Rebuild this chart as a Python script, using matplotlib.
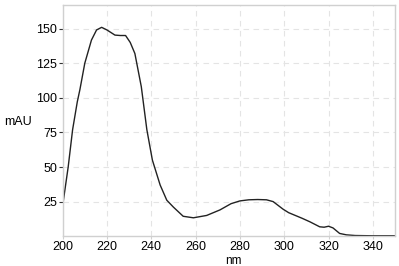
import numpy as np
import matplotlib.pyplot as plt

plt.rcParams['font.family'] = ['Liberation Sans', 'DejaVu Sans']

# Espectro de absorbancia
nm = [200, 202.5, 204.5, 206.6, 207.8, 210, 213, 215.3, 217.6, 220, 223.6, 226,
      228.4, 230.5, 232.6, 235.5, 238, 240.5, 244, 247, 250, 254.4, 259, 265,
      271, 276, 280, 284, 288, 292, 295, 299.5, 302, 305, 308, 311.6, 316,
      318, 320, 322, 325, 328, 332, 340, 350]
mau = [22, 50, 77, 97, 106, 125, 141.7, 149, 150.9, 149, 145.3, 145,
       145, 140, 132, 108, 77, 55, 37, 26, 21, 14.4, 13.3, 15,
       19, 23.5, 25.5, 26.3, 26.5, 26.3, 25, 19.5, 17, 15, 13, 10.4, 6.8,
       6.5, 7.2, 6, 2, 1, 0.5, 0.3, 0.3]

xticks = [200, 220, 240, 260, 280, 300, 320, 340]
yticks = [25, 50, 75, 100, 125, 150]

fig = plt.figure(figsize=(3.99, 2.66), dpi=100)
ax = fig.add_axes([0.157, 0.112, 0.833, 0.869])

ax.plot(nm, mau, color='#222222', linewidth=1.0)

ax.set_xlim(200, 350)
ax.set_ylim(0, 167)
ax.set_xticks(xticks)
ax.set_yticks(yticks)
ax.grid(True, color='#e4e4e4', linestyle=(0, (5, 4)), linewidth=0.8)
ax.set_axisbelow(True)

for s in ax.spines.values():
    s.set_color('#d0d0d0')
    s.set_linewidth(1.0)

ax.tick_params(axis='y', length=3, width=0.8, color='#333333', labelsize=9, pad=1)
ax.tick_params(axis='x', length=2, width=0.8, color='#d0d0d0', labelsize=9, pad=1.5)

fig.text(18 / 399, 1 - 122 / 266, 'mAU', fontsize=9, ha='center', va='center')
fig.text(233 / 399, 1 - 263.5 / 266, 'nm', fontsize=8.5, ha='center', va='baseline')

fig.savefig('out.png', dpi=100)
